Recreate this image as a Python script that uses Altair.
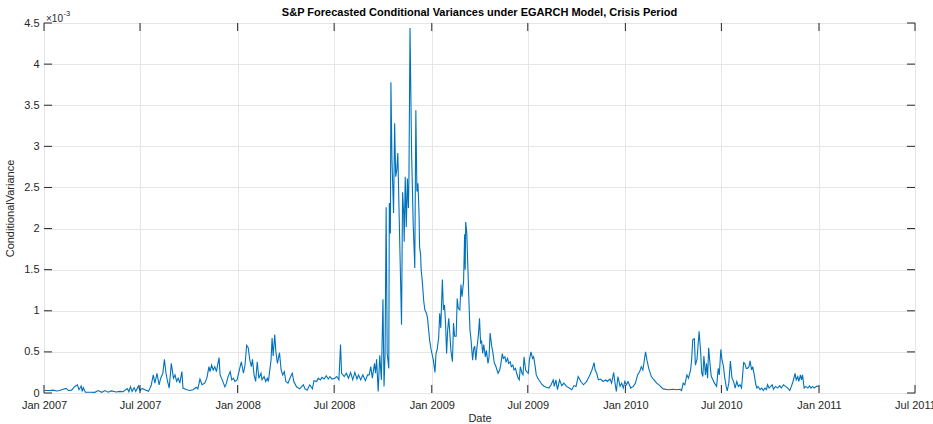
import altair as alt
import pandas as pd

# ---- data (variance in units of 1e-3) ----
d2007 = ["01-02","01-12","01-18","01-25","01-31","02-06","02-12","02-16","02-22","02-28",
         "03-05","03-08","03-12","03-14","03-16","03-20","03-29","04-07","04-13","04-20",
         "04-26","05-02","05-08","05-17","05-24","05-30","06-07","06-10","06-13","06-16",
         "06-20","06-23","06-28","07-01","07-05","07-10","07-17","07-22","07-26","07-29",
         "08-02","08-06","08-09","08-13","08-16","08-19","08-22","08-25","08-29","09-02",
         "09-05","09-08","09-11","09-14","09-18","09-20","09-27","10-03","10-09","10-15",
         "10-18","10-22","10-26","10-31","11-04","11-08","11-10","11-13","11-16","11-19",
         "11-22","11-27","11-29","12-03","12-08","12-11","12-14","12-18","12-21","12-24",
         "12-27","12-31"]
v2007 = [0.03,0.03,0.035,0.025,0.03,0.045,0.055,0.03,0.035,0.08,
         0.10,0.04,0.085,0.02,0.065,0.01,0.01,0.008,0.03,0.008,
         0.03,0.01,0.025,0.012,0.02,0.015,0.055,0.015,0.075,0.02,
         0.065,0.02,0.085,0.03,0.055,0.04,0.02,0.09,0.22,0.12,
         0.24,0.10,0.18,0.24,0.41,0.24,0.14,0.06,0.36,0.18,
         0.22,0.14,0.18,0.12,0.26,0.06,0.04,0.03,0.04,0.07,
         0.05,0.17,0.10,0.12,0.18,0.32,0.26,0.34,0.28,0.32,
         0.26,0.43,0.22,0.16,0.075,0.12,0.20,0.26,0.16,0.18,
         0.14,0.16]

d2008 = ["01-05","01-08","01-12","01-15","01-18","01-21","01-24","01-27","01-29","02-01",
         "02-04","02-07","02-10","02-14","02-16","02-20","02-23","02-26","02-28","03-04",
         "03-06","03-08","03-11","03-13","03-16","03-20","03-23","03-26","03-29","04-01",
         "04-05","04-10","04-13","04-16","04-21","04-27","05-04","05-07","05-11","05-16",
         "05-21","05-24","05-29","06-01","06-05","06-08","06-12","06-16","06-20","06-23",
         "06-27","07-02","07-06","07-10","07-13","07-15","07-20","07-24","07-28","08-01",
         "08-05","08-09","08-13","08-16","08-20","08-24","08-29","09-02","09-05","09-08",
         "09-11","09-15","09-17","09-19","09-22","09-25","09-28","10-01","10-03","10-05",
         "10-07","10-09","10-12","10-13","10-15","10-16","10-18","10-21","10-23","10-25",
         "10-27","10-29","11-05","11-07","11-09","11-10","11-12","11-14","11-16","11-18",
         "11-19","11-21","11-24","11-27","11-30","12-02","12-04","12-06","12-08","12-09",
         "12-11","12-12","12-14","12-17","12-19","12-22","12-24","12-28","12-31"]
v2008 = [0.30,0.38,0.24,0.34,0.58,0.55,0.40,0.32,0.41,0.22,
         0.14,0.38,0.18,0.24,0.16,0.20,0.14,0.18,0.14,0.40,
         0.67,0.45,0.71,0.51,0.36,0.49,0.28,0.22,0.26,0.14,
         0.12,0.20,0.24,0.14,0.075,0.05,0.10,0.05,0.035,0.10,
         0.05,0.15,0.14,0.18,0.16,0.19,0.17,0.21,0.17,0.20,
         0.17,0.18,0.20,0.16,0.59,0.24,0.20,0.24,0.18,0.25,
         0.16,0.25,0.17,0.22,0.16,0.22,0.15,0.22,0.22,0.32,
         0.18,0.36,0.24,0.41,0.02,0.46,0.16,1.14,0.08,0.48,
         2.26,0.48,0.30,2.31,1.94,3.78,2.83,2.19,3.28,2.63,
         2.71,2.92,0.83,2.44,2.19,1.84,2.63,2.02,2.61,2.25,
         2.63,4.44,2.92,2.06,1.52,3.44,2.45,2.55,2.19,1.78,
         1.68,1.50,1.37,1.11,1.01,0.97,0.91,0.64,0.52]

d2009 = ["01-04","01-07","01-09","01-11","01-14","01-16","01-18","01-21","01-23","01-25",
         "01-27","01-29","01-31","02-02","02-04","02-06","02-09","02-11","02-13","02-16",
         "02-18","02-20","02-23","02-25","02-27","03-02","03-04","03-05","03-06","03-08",
         "03-10","03-12","03-14","03-16","03-19","03-21","03-23","03-25","03-27","03-30",
         "04-01","04-03","04-05","04-07","04-09","04-12","04-14","04-17","04-19","04-21",
         "04-24","04-26","04-29","05-01","05-04","05-06","05-09","05-11","05-14","05-16",
         "05-19","05-21","05-24","05-26","05-29","05-31","06-03","06-05","06-08","06-10",
         "06-13","06-15","06-17","06-20","06-22","06-24","06-27","06-29","07-02","07-04",
         "07-07","07-10","07-12","07-15","07-17","07-20","07-24","07-27","07-31","08-05",
         "08-10","08-14","08-18","08-20","08-23","08-26","08-30","09-03","09-07","09-12",
         "09-17","09-22","09-26","09-30","10-04","10-09","10-14","10-20","10-26","10-30",
         "11-03","11-05","11-08","11-11","11-15","11-20","11-25","11-28","12-03","12-06",
         "12-10","12-12","12-15","12-18","12-22","12-25","12-28","12-31"]
v2009 = [0.40,0.25,0.48,0.52,0.67,0.97,0.79,1.38,1.01,1.07,
         0.85,0.48,0.77,0.91,0.73,0.52,0.38,0.85,0.69,0.69,
         1.15,1.03,1.01,1.32,1.17,1.36,1.93,1.50,2.08,1.95,
         1.54,1.13,0.77,0.65,0.40,0.54,0.57,0.40,0.54,0.71,
         0.91,0.61,0.63,0.48,0.59,0.44,0.52,0.36,0.44,0.73,
         0.57,0.50,0.36,0.34,0.28,0.24,0.28,0.34,0.48,0.42,
         0.44,0.38,0.42,0.36,0.38,0.32,0.34,0.28,0.30,0.24,
         0.18,0.16,0.32,0.24,0.22,0.44,0.28,0.26,0.24,0.40,
         0.50,0.42,0.44,0.32,0.22,0.18,0.14,0.11,0.085,0.07,
         0.06,0.10,0.16,0.08,0.16,0.04,0.16,0.09,0.12,0.08,
         0.06,0.04,0.09,0.08,0.20,0.14,0.10,0.14,0.22,0.28,
         0.37,0.28,0.24,0.16,0.17,0.14,0.16,0.14,0.17,0.12,
         0.25,0.14,0.02,0.20,0.08,0.12,0.06,0.14]

d2010 = ["01-03","01-06","01-11","01-16","01-20","01-24","01-28","01-31","02-03","02-06",
         "02-08","02-11","02-14","02-19","02-24","03-01","03-07","03-13","03-23","04-01",
         "04-07","04-14","04-17","04-20","04-23","04-27","04-30","05-04","05-06","05-08",
         "05-11","05-13","05-16","05-20","05-23","05-25","05-27","05-29","06-01","06-03",
         "06-05","06-07","06-10","06-12","06-15","06-18","06-22","06-25","06-27","06-30",
         "07-02","07-05","07-07","07-10","07-12","07-15","07-18","07-21","07-24","07-27",
         "07-30","08-02","08-05","08-08","08-12","08-14","08-17","08-19","08-22","08-24",
         "08-27","08-29","09-01","09-04","09-06","09-08","09-12","09-15","09-18","09-21",
         "09-24","09-26","09-29","10-02","10-05","10-07","10-11","10-15","10-19","10-22",
         "10-26","10-30","11-03","11-07","11-10","11-13","11-17","11-19","11-22","11-24",
         "11-27","11-29","12-01","12-04","12-07","12-11","12-14","12-17","12-20","12-23",
         "12-27","12-30","12-31"]
v2010 = [0.10,0.14,0.06,0.08,0.12,0.22,0.26,0.32,0.28,0.41,
         0.50,0.39,0.30,0.20,0.16,0.12,0.09,0.05,0.04,0.045,
         0.04,0.045,0.03,0.12,0.10,0.22,0.18,0.28,0.41,0.65,
         0.66,0.34,0.41,0.75,0.49,0.24,0.20,0.45,0.22,0.36,
         0.18,0.55,0.32,0.20,0.16,0.12,0.08,0.30,0.22,0.53,
         0.41,0.32,0.20,0.08,0.025,0.12,0.39,0.18,0.14,0.06,
         0.14,0.08,0.10,0.06,0.37,0.36,0.30,0.30,0.32,0.39,
         0.28,0.32,0.22,0.10,0.06,0.08,0.04,0.06,0.03,0.06,
         0.04,0.10,0.06,0.08,0.10,0.045,0.08,0.06,0.09,0.06,
         0.10,0.08,0.06,0.03,0.08,0.14,0.24,0.16,0.20,0.14,
         0.22,0.16,0.22,0.06,0.08,0.06,0.085,0.06,0.08,0.06,
         0.08,0.08,0.08]

x_tick_dates = ["2007-01-01","2007-07-01","2008-01-01","2008-07-01","2009-01-01",
                "2009-07-01","2010-01-01","2010-07-01","2011-01-01","2011-07-01"]
y_tick_values = [0, 0.5, 1, 1.5, 2, 2.5, 3, 3.5, 4, 4.5]

title_text = "S&P Forecasted Conditional Variances under EGARCH Model, Crisis Period"
x_title = "Date"
y_title = "ConditionalVariance"

for d, v in [(d2007, v2007), (d2008, v2008), (d2009, v2009), (d2010, v2010)]:
    assert len(d) == len(v), (len(d), len(v))

dates = ([f"2007-{s}" for s in d2007] + [f"2008-{s}" for s in d2008] +
         [f"2009-{s}" for s in d2009] + [f"2010-{s}" for s in d2010])
values = v2007 + v2008 + v2009 + v2010
df = pd.DataFrame({"date": dates, "variance": values})


def dt(s):
    y, m, d = map(int, s.split("-"))
    return alt.DateTime(year=y, month=m, date=d, utc=True)


x_start = dt(x_tick_dates[0])
x_end = dt(x_tick_dates[-1])
AX = "#262626"
FONT = "Liberation Sans"

x_scale = alt.Scale(type="utc", domain=[x_start, x_end])
y_scale = alt.Scale(domain=[0, 4.5], nice=False)

common_axis = dict(grid=True, ticks=False, domain=False,
                   labelFont=FONT, labelFontSize=11, labelColor=AX,
                   titleFont=FONT, titleFontSize=11, titleColor=AX, titleFontWeight=400,
                   gridColor="#e6e6e6", gridWidth=1, gridOpacity=1)
x_axis = alt.Axis(values=[dt(s) for s in x_tick_dates], format="%b %Y",
                  title=x_title, labelPadding=6, titlePadding=2,
                  labelFlush=False, labelOverlap=False, **common_axis)
y_axis = alt.Axis(values=y_tick_values, format="~g", title=y_title,
                  labelPadding=5, titlePadding=8, **common_axis)

line = alt.Chart(df).mark_line(color="#0072BD", strokeWidth=1.1).encode(
    x=alt.X("date:T", scale=x_scale, axis=x_axis, title=x_title),
    y=alt.Y("variance:Q", scale=y_scale, axis=y_axis, title=y_title),
)

xt = pd.DataFrame({"d": x_tick_dates})
yt = pd.DataFrame({"v": y_tick_values})
tick_style = dict(color=AX, thickness=1, size=8, opacity=1)

bottom_ticks = alt.Chart(xt).mark_tick(orient="vertical", yOffset=-4, **tick_style).encode(
    x=alt.X("d:T", axis=x_axis, title=x_title),
    y=alt.YDatum(0, axis=y_axis, title=y_title))
top_ticks = alt.Chart(xt).mark_tick(orient="vertical", yOffset=4, **tick_style).encode(
    x=alt.X("d:T", axis=x_axis, title=x_title),
    y=alt.YDatum(4.5, axis=y_axis, title=y_title))
left_ticks = alt.Chart(yt).mark_tick(orient="horizontal", xOffset=4, **tick_style).encode(
    y=alt.Y("v:Q", axis=y_axis, title=y_title),
    x=alt.XDatum(x_start, type="temporal", axis=x_axis, title=x_title))
right_ticks = alt.Chart(yt).mark_tick(orient="horizontal", xOffset=-4, **tick_style).encode(
    y=alt.Y("v:Q", axis=y_axis, title=y_title),
    x=alt.XDatum(x_end, type="temporal", axis=x_axis, title=x_title))

title_mark = alt.Chart(pd.DataFrame({"t": [title_text]})).mark_text(
    align="center", baseline="alphabetic", font=FONT, fontSize=11, fontWeight="bold",
    color="black").encode(text="t:N", x=alt.value(435.5), y=alt.value(-7))
exp_base = alt.Chart(pd.DataFrame({"t": ["\u00d710"]})).mark_text(
    align="left", baseline="middle", font=FONT, fontSize=10, color=AX).encode(
    text="t:N", x=alt.value(2), y=alt.value(-4))
exp_sup = alt.Chart(pd.DataFrame({"t": ["-3"]})).mark_text(
    align="left", baseline="middle", font=FONT, fontSize=7.5, color=AX).encode(
    text="t:N", x=alt.value(19.5), y=alt.value(-9))

chart = alt.layer(line, bottom_ticks, top_ticks, left_ticks, right_ticks,
                  title_mark, exp_base, exp_sup).properties(
    width=871, height=370,
    autosize=alt.AutoSizeParams(type="none"),
    padding={"left": 44, "top": 23, "right": 18, "bottom": 31},
).configure_view(
    stroke=AX, strokeWidth=1
).configure(background="white")

chart.save("out.html", embed_options={"renderer": "svg", "actions": False})
